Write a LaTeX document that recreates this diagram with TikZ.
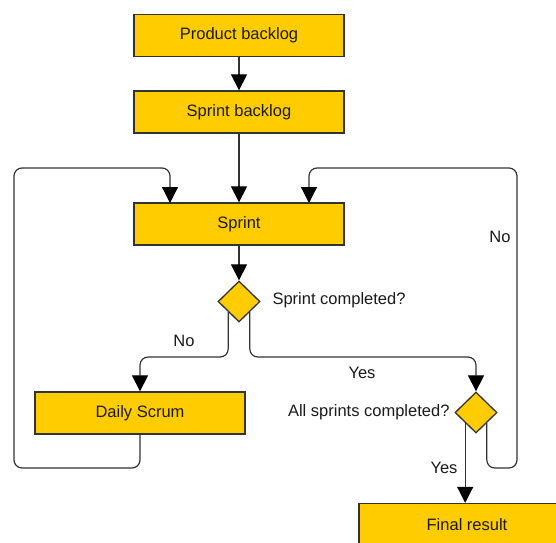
\documentclass[tikz,border=0pt]{standalone}
\usepackage{fontspec}
\setmainfont{Liberation Sans}
\usetikzlibrary{shapes.geometric,arrows.meta,calc}
\definecolor{boxfill}{HTML}{FFCC00}
\definecolor{linecol}{HTML}{333333}
\definecolor{txtcol}{HTML}{1A1A1A}
\begin{document}
\begin{tikzpicture}[x=1pt,y=-1pt,
  every node/.style={font=\fontsize{16.5}{19}\selectfont, text=txtcol},
  stepbox/.style={draw=linecol, line width=1.3pt, fill=boxfill, rectangle, inner sep=0pt, minimum width=210pt, minimum height=42pt},
  decision/.style={draw=linecol, line width=1.3pt, fill=boxfill, diamond, inner sep=0pt, minimum width=42pt, minimum height=41pt},
  conn/.style={draw=linecol, line width=1.2pt, -{Triangle[width=16pt,length=16pt,color=black]}, rounded corners=8pt},
  lbl/.style={text=txtcol}]
\useasboundingbox (0,0) rectangle (556,542);
\clip (0,0) rectangle (556,542);
\node[stepbox] (pb) at (239,35.5) {Product backlog};
\node[stepbox] (sb) at (239,112) {Sprint backlog};
\node[stepbox] (sp) at (239,224) {Sprint};
\node[decision] (d1) at (239,301.5) {};
\node[stepbox] (ds) at (140,413) {Daily Scrum};
\node[decision] (d2) at (476,412.5) {};
\node[stepbox, minimum width=216pt] (fr) at (467,524.5) {Final result};

\node[lbl, anchor=west] (t1) at (269,300) {Sprint completed?};
\node[lbl, anchor=east] (t2) at (453,412) {All sprints completed?};
\node[lbl] (lno1) at (184,341) {No};
\node[lbl] (lyes1) at (362,372.5) {Yes};
\node[lbl] (lno2) at (500,237) {No};
\node[lbl] (lyes2) at (444,468) {Yes};

\coordinate (d1l) at ($(d1.south)!0.5!(d1.west)$);
\coordinate (d1r) at ($(d1.south)!0.5!(d1.east)$);
\coordinate (d2l) at ($(d2.south)!0.5!(d2.west)$);
\coordinate (d2r) at ($(d2.south)!0.5!(d2.east)$);
\coordinate (spl) at (170,203);
\coordinate (spr) at (309,203);

\draw[conn] (pb.south) -- (sb.north);
\draw[conn] (sb.south) -- (sp.north);
\draw[conn] (sp.south) -- (d1.north);
\draw[conn] (d1l) -- (d1l |- 0,357) -- (ds.north |- 0,357) -- (ds.north);
\draw[conn] (d1r) -- (d1r |- 0,357) -- (d2.north |- 0,357) -- (d2.north);
\draw[conn] (d2l) -- (d2l |- fr.north);
\draw[conn] (d2r) -- (d2r |- 0,468) -- (517,468) -- (517,168) -- (spr |- 0,168) -- (spr);
\draw[conn] (ds.south) -- (ds.south |- 0,468) -- (14,468) -- (14,168) -- (spl |- 0,168) -- (spl);
\end{tikzpicture}
\end{document}
